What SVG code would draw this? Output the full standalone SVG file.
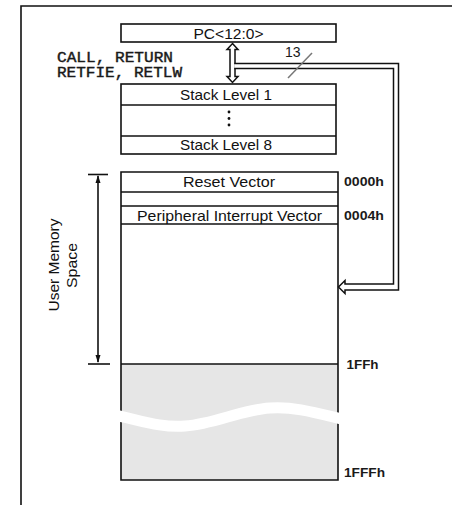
<svg xmlns="http://www.w3.org/2000/svg" width="452" height="505" viewBox="0 0 452 505">
  <style>
    .box { fill: #ffffff; stroke: #111; stroke-width: 1.6; }
    .ln { stroke: #111; stroke-width: 1.6; fill: none; }
    .lbl { font-family: "Liberation Sans", Arial, sans-serif; font-size: 15px; fill: #111; text-anchor: middle; }
    .addr { font-family: "Liberation Sans", Arial, sans-serif; font-size: 12.5px; font-weight: bold; fill: #1a1a1a; }
    .mono { font-family: "Liberation Mono", "Courier New", monospace; font-size: 14px; fill: #1a1a1a; stroke: #1a1a1a; stroke-width: 0.4; }
    .hollow { fill: #ffffff; stroke: #111; stroke-width: 1.5; stroke-linejoin: miter; }
  </style>
  <rect width="452" height="505" fill="#ffffff"/>
  <g id="frame">
    <path class="ln" d="M21,505 V6 H452"/>
  </g>
  <g id="pc">
    <rect class="box" x="121" y="24" width="215" height="18"/>
    <text class="lbl" x="228.5" y="38.5" textLength="70" lengthAdjust="spacingAndGlyphs">PC&lt;12:0&gt;</text>
  </g>
  <g id="instr-label">
    <text class="mono" x="57" y="62" textLength="116" lengthAdjust="spacingAndGlyphs">CALL, RETURN</text>
    <text class="mono" x="57" y="77" textLength="125" lengthAdjust="spacingAndGlyphs">RETFIE, RETLW</text>
  </g>
  <g id="stack">
    <rect class="box" x="121" y="84" width="215" height="70"/>
    <line class="ln" x1="121" y1="105" x2="336" y2="105"/>
    <line class="ln" x1="121" y1="136" x2="336" y2="136"/>
    <text class="lbl" x="226" y="99.5" textLength="92" lengthAdjust="spacingAndGlyphs">Stack Level 1</text>
    <circle cx="229" cy="112" r="1.4" fill="#111"/>
    <circle cx="229" cy="118.5" r="1.4" fill="#111"/>
    <circle cx="229" cy="125" r="1.4" fill="#111"/>
    <text class="lbl" x="226" y="150" textLength="92" lengthAdjust="spacingAndGlyphs">Stack Level 8</text>
  </g>
  <g id="memory">
    <rect x="121" y="364" width="217" height="116" fill="#e6e6e6"/>
    <rect x="121" y="172" width="217" height="192" fill="#ffffff"/>
    <path class="ln" d="M121,172 H338 V480 H121 Z"/>
    <line class="ln" x1="121" y1="192" x2="338" y2="192"/>
    <line class="ln" x1="121" y1="206" x2="338" y2="206"/>
    <line class="ln" x1="121" y1="224" x2="338" y2="224"/>
    <line class="ln" x1="121" y1="364" x2="338" y2="364"/>
    <path d="M110,414 C140,420 160,428 185,426 C215,424 240,410 270,408 C295,406 320,414 350,421" fill="none" stroke="#ffffff" stroke-width="11"/>
    <text class="lbl" x="229" y="187" textLength="92" lengthAdjust="spacingAndGlyphs">Reset Vector</text>
    <text class="lbl" x="229.5" y="221" textLength="185" lengthAdjust="spacingAndGlyphs">Peripheral Interrupt Vector</text>
  </g>
  <g id="addresses">
    <text class="addr" x="344" y="186" textLength="40" lengthAdjust="spacingAndGlyphs">0000h</text>
    <text class="addr" x="344" y="220" textLength="40" lengthAdjust="spacingAndGlyphs">0004h</text>
    <text class="addr" x="346.5" y="369" textLength="32" lengthAdjust="spacingAndGlyphs">1FFh</text>
    <text class="addr" x="344" y="477" textLength="41" lengthAdjust="spacingAndGlyphs">1FFFh</text>
  </g>
  <g id="user-space">
    <line class="ln" x1="98" y1="176" x2="98" y2="362"/>
    <line class="ln" x1="88" y1="174.5" x2="108" y2="174.5"/>
    <line class="ln" x1="88" y1="364" x2="110" y2="364"/>
    <path d="M98,175 L95.5,183 L100.5,183 Z" fill="#111"/>
    <path d="M98,363 L95.5,355 L100.5,355 Z" fill="#111"/>
    <text class="lbl" transform="translate(59,265) rotate(-90)" textLength="93" lengthAdjust="spacingAndGlyphs">User Memory</text>
    <text class="lbl" transform="translate(77,265.5) rotate(-90)" textLength="45" lengthAdjust="spacingAndGlyphs">Space</text>
  </g>
  <g id="connectors">
    <path class="hollow" d="M232.5,43.5 L238,49.5 L235,49.5 L235,76.5 L238,76.5 L232.5,82.5 L227,76.5 L230,76.5 L230,49.5 L227,49.5 Z"/>
    <path class="hollow" d="M234.2,63.5 H398.5 V290 H345 V293.5 L338.5,287 L345,280.5 V284 H393.5 V68.5 H234.2"/>
    <line x1="288" y1="78" x2="312" y2="53" stroke="#777" stroke-width="1.5"/>
    <text x="285" y="57" font-family="Liberation Sans, Arial, sans-serif" font-size="14" fill="#1a1a1a">13</text>
  </g>
</svg>
